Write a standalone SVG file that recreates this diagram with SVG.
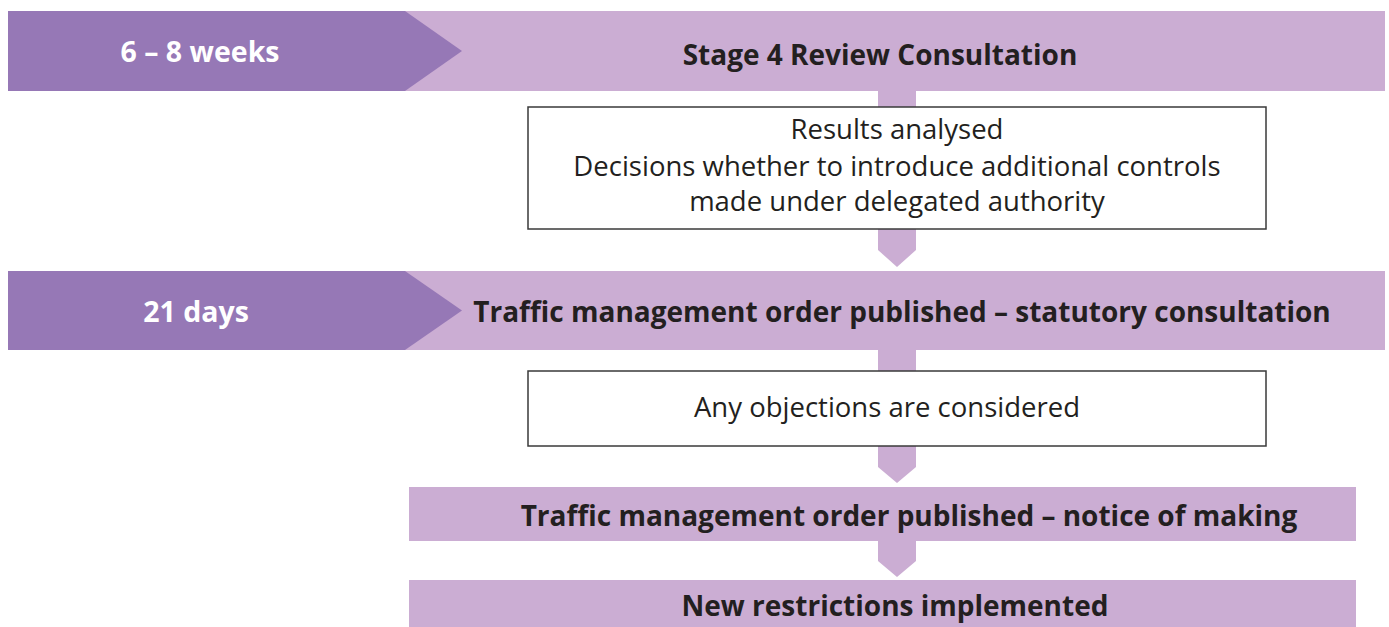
<svg xmlns="http://www.w3.org/2000/svg" width="1389" height="627" viewBox="0 0 1389 627">
<style>
.band{fill:#CBADD3}
.dark{fill:#9678B6}
.box{fill:#FFFFFF;stroke:#3a3a3a;stroke-width:1.5}
.arr{fill:#CBADD3}
.b{font-family:"Open Sans",sans-serif;font-weight:bold;font-size:28px;fill:#231F20;text-anchor:middle}
.w{font-family:"Open Sans",sans-serif;font-weight:bold;font-size:28.5px;fill:#FFFFFF;text-anchor:middle}
.r{font-family:"Open Sans",sans-serif;font-size:27.5px;fill:#231F20;text-anchor:middle}
</style>
<rect width="1389" height="627" fill="#FFFFFF"/>
<g id="connectors">
<rect class="arr" x="878" y="90" width="38" height="18"/>
<path class="arr" d="M878 229 H916 V250 L897 267 L878 250 Z"/>
<rect class="arr" x="878" y="350" width="38" height="22"/>
<path class="arr" d="M878 446 H916 V467 L897 483 L878 467 Z"/>
<path class="arr" d="M878 541 H916 V561 L897 577 L878 561 Z"/>
</g>
<g id="stage4">
<rect class="band" x="8" y="11" width="1377" height="80"/>
<path class="dark" d="M8 11 H405 L462 51 L405 91 H8 Z"/>
<text class="w" x="200" y="62">6 – 8 weeks</text>
<text class="b" x="880" y="65">Stage 4 Review Consultation</text>
</g>
<g id="results">
<rect class="box" x="528" y="107" width="738" height="122"/>
<text class="r" x="897" y="139">Results analysed</text>
<text class="r" x="897" y="176">Decisions whether to introduce additional controls</text>
<text class="r" x="897" y="211">made under delegated authority</text>
</g>
<g id="statutory">
<rect class="band" x="8" y="271" width="1377" height="79"/>
<path class="dark" d="M8 271 H405 L462 310.5 L405 350 H8 Z"/>
<text class="w" x="196" y="322">21 days</text>
<text class="b" x="902" y="322">Traffic management order published – statutory consultation</text>
</g>
<g id="objections">
<rect class="box" x="528" y="371" width="738" height="75"/>
<text class="r" x="887" y="417">Any objections are considered</text>
</g>
<g id="notice">
<rect class="band" x="409" y="487" width="947" height="54"/>
<text class="b" x="909" y="526">Traffic management order published – notice of making</text>
</g>
<g id="implemented">
<rect class="band" x="409" y="580" width="947" height="47"/>
<text class="b" x="895" y="616">New restrictions implemented</text>
</g>
</svg>
